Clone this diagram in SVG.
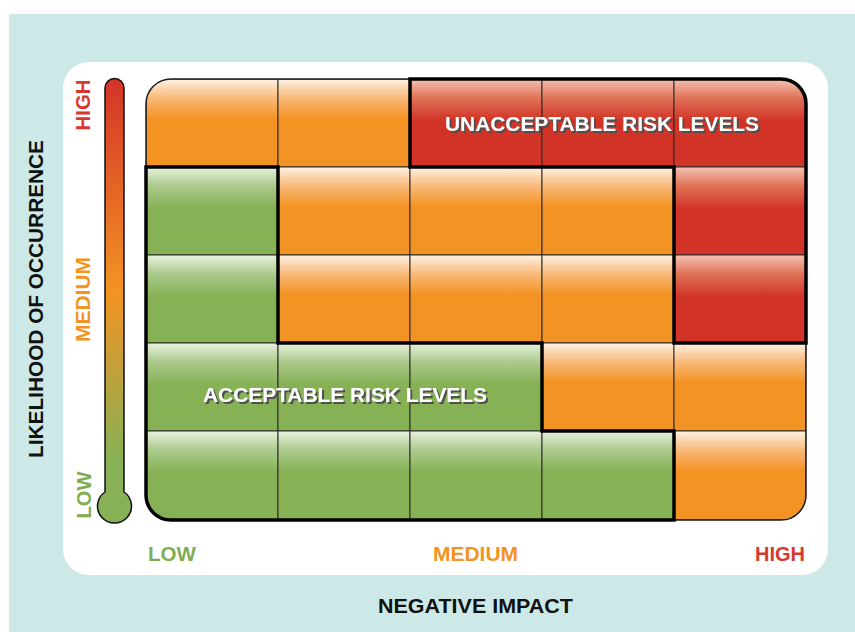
<svg xmlns="http://www.w3.org/2000/svg" width="855" height="632" viewBox="0 0 855 632">
<style>
.lbl{font-family:"Liberation Sans",Arial,sans-serif;font-weight:bold;}
.cell{stroke:#2a2a2a;stroke-width:1;}
.o{fill:url(#gO);} .g{fill:url(#gG);} .r{fill:url(#gR);}
.thick{fill:none;stroke:#000;stroke-width:3.5;stroke-linejoin:miter;}
.zone{font-family:"Liberation Sans",Arial,sans-serif;font-weight:bold;font-size:21px;fill:#FFFFFF;filter:url(#shadow);}
</style>
<defs>
<filter id="shadow" x="-5%" y="-30%" width="110%" height="160%">
<feDropShadow dx="2" dy="2" stdDeviation="0.3" flood-color="#505050" flood-opacity="1"/>
</filter>
<linearGradient id="gO" x1="0" y1="0" x2="0" y2="1">
<stop offset="0" stop-color="#FFF3E6"/><stop offset="0.22" stop-color="#F8B877"/><stop offset="0.45" stop-color="#F39323"/><stop offset="1" stop-color="#F39323"/>
</linearGradient>
<linearGradient id="gG" x1="0" y1="0" x2="0" y2="1">
<stop offset="0" stop-color="#E9F1DF"/><stop offset="0.22" stop-color="#AAC98A"/><stop offset="0.47" stop-color="#86B155"/><stop offset="1" stop-color="#86B155"/>
</linearGradient>
<linearGradient id="gR" x1="0" y1="0" x2="0" y2="1">
<stop offset="0" stop-color="#F4C2B3"/><stop offset="0.22" stop-color="#E07256"/><stop offset="0.47" stop-color="#D13427"/><stop offset="1" stop-color="#D13427"/>
</linearGradient>
<linearGradient id="gT" x1="0" y1="78" x2="0" y2="505" gradientUnits="userSpaceOnUse">
<stop offset="0" stop-color="#D33328"/><stop offset="0.5" stop-color="#F39323"/><stop offset="0.9" stop-color="#86B155"/><stop offset="1" stop-color="#86B155"/>
</linearGradient>
<clipPath id="gridClip"><rect x="146" y="79" width="660" height="441" rx="25" ry="25"/></clipPath>
</defs>

<rect x="0" y="0" width="855" height="632" fill="#FFFFFF"/>
<rect x="9" y="14" width="846" height="618" fill="#CCE9E7"/>
<rect x="63" y="62" width="765" height="513" rx="26" ry="26" fill="#FFFFFF"/>

<g id="thermometer">
<path d="M105,88 A9.5,9.5 0 0 1 124,88 V492 A17,17 0 1 1 105,492 Z" fill="url(#gT)" stroke="#111" stroke-width="1.5"/>
</g>

<g id="grid" clip-path="url(#gridClip)">
<g id="row0">
<rect class="cell o" x="146" y="79" width="132" height="88"/>
<rect class="cell o" x="278" y="79" width="132" height="88"/>
<rect class="cell r" x="410" y="79" width="132" height="88"/>
<rect class="cell r" x="542" y="79" width="132" height="88"/>
<rect class="cell r" x="674" y="79" width="132" height="88"/>
</g>
<g id="row1">
<rect class="cell g" x="146" y="167" width="132" height="88"/>
<rect class="cell o" x="278" y="167" width="132" height="88"/>
<rect class="cell o" x="410" y="167" width="132" height="88"/>
<rect class="cell o" x="542" y="167" width="132" height="88"/>
<rect class="cell r" x="674" y="167" width="132" height="88"/>
</g>
<g id="row2">
<rect class="cell g" x="146" y="255" width="132" height="88"/>
<rect class="cell o" x="278" y="255" width="132" height="88"/>
<rect class="cell o" x="410" y="255" width="132" height="88"/>
<rect class="cell o" x="542" y="255" width="132" height="88"/>
<rect class="cell r" x="674" y="255" width="132" height="88"/>
</g>
<g id="row3">
<rect class="cell g" x="146" y="343" width="132" height="88"/>
<rect class="cell g" x="278" y="343" width="132" height="88"/>
<rect class="cell g" x="410" y="343" width="132" height="88"/>
<rect class="cell o" x="542" y="343" width="132" height="88"/>
<rect class="cell o" x="674" y="343" width="132" height="88"/>
</g>
<g id="row4">
<rect class="cell g" x="146" y="431" width="132" height="89"/>
<rect class="cell g" x="278" y="431" width="132" height="89"/>
<rect class="cell g" x="410" y="431" width="132" height="89"/>
<rect class="cell g" x="542" y="431" width="132" height="89"/>
<rect class="cell o" x="674" y="431" width="132" height="89"/>
</g>
</g>
<rect x="146" y="79" width="660" height="441" rx="25" ry="25" fill="none" stroke="#1a1a1a" stroke-width="1.5"/>

<g id="connectors">
<path id="unacceptable-border" class="thick" d="M410,167 V79 H781 A25,25 0 0 1 806,104 V343 H674 V167 Z"/>
<path id="acceptable-border" class="thick" d="M146,167 H278 V343 H542 V431 H674 V520 H171 A25,25 0 0 1 146,495 Z"/>
</g>

<g id="unacceptable-label">
<text class="zone" x="602" y="131" text-anchor="middle" textLength="314" lengthAdjust="spacingAndGlyphs">UNACCEPTABLE RISK LEVELS</text>
</g>
<g id="acceptable-label">
<text class="zone" x="345" y="402" text-anchor="middle" textLength="284" lengthAdjust="spacingAndGlyphs">ACCEPTABLE RISK LEVELS</text>
</g>

<g id="y-labels">
<text class="lbl" transform="translate(90,105) rotate(-90)" text-anchor="middle" font-size="21" fill="#D6392F" textLength="51" lengthAdjust="spacingAndGlyphs">HIGH</text>
<text class="lbl" transform="translate(90,299.5) rotate(-90)" text-anchor="middle" font-size="21" fill="#F39323" textLength="85" lengthAdjust="spacingAndGlyphs">MEDIUM</text>
<text class="lbl" transform="translate(91,495) rotate(-90)" text-anchor="middle" font-size="21" fill="#7FAE52" textLength="47" lengthAdjust="spacingAndGlyphs">LOW</text>
<text class="lbl" transform="translate(43,299) rotate(-90)" text-anchor="middle" font-size="21" fill="#111111" textLength="318" lengthAdjust="spacingAndGlyphs">LIKELIHOOD OF OCCURRENCE</text>
</g>

<g id="x-labels">
<text class="lbl" x="172" y="561" text-anchor="middle" font-size="20" fill="#7FAE52" textLength="48" lengthAdjust="spacingAndGlyphs">LOW</text>
<text class="lbl" x="475.5" y="561" text-anchor="middle" font-size="20" fill="#F39323" textLength="85" lengthAdjust="spacingAndGlyphs">MEDIUM</text>
<text class="lbl" x="780" y="561" text-anchor="middle" font-size="20" fill="#D6392F" textLength="50" lengthAdjust="spacingAndGlyphs">HIGH</text>
<text class="lbl" x="475.5" y="613" text-anchor="middle" font-size="20" fill="#111111" textLength="195" lengthAdjust="spacingAndGlyphs">NEGATIVE IMPACT</text>
</g>
</svg>
